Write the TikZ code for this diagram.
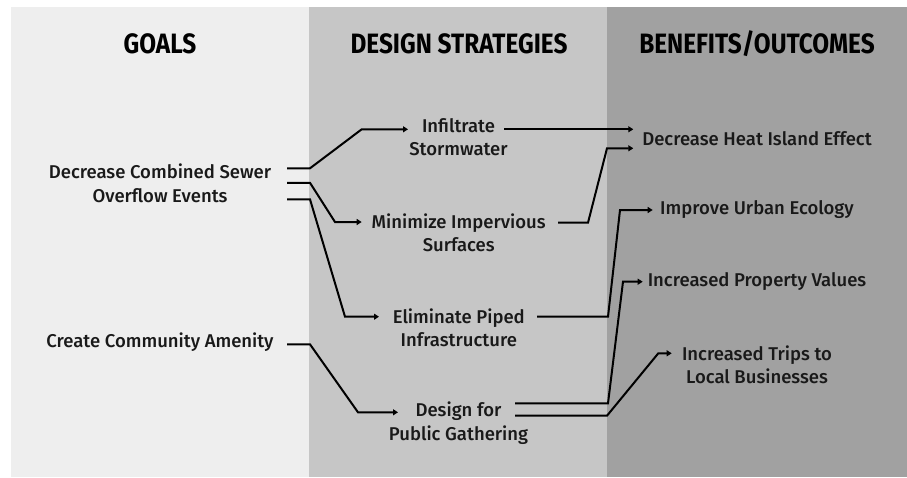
\documentclass[tikz,border=0pt]{standalone}
\usepackage{fontspec}
\setmainfont{Fira Sans Medium}
\newfontfamily\headfont[FakeStretch=0.87]{Fira Sans}
\usetikzlibrary{arrows.meta}
\definecolor{goalgray}{HTML}{EEEEEE}
\definecolor{stratgray}{HTML}{C6C6C6}
\definecolor{bengray}{HTML}{A1A1A1}

\begin{document}
\begin{tikzpicture}[x=1pt,y=-1pt,>={Triangle[length=5pt,width=6pt]},
		head/.style={font=\headfont\bfseries\fontsize{28}{30}\selectfont},
		item/.style={font=\fontsize{18.5}{23.3}\selectfont,align=center,inner sep=0pt,text=black!90},
		link/.style={->,line width=2pt}]

	\useasboundingbox (0,0) rectangle (907,477);

	% the three columns
	\fill[goalgray] (11,7) rectangle (309.3,477);
	\fill[stratgray] (309.3,7) rectangle (607.3,477);
	\fill[bengray] (607.3,7) rectangle (907,477);

	\node[head] (hgoal) at (160,43.5) {GOALS};
	\node[head] (hstrat) at (459,43.5) {DESIGN STRATEGIES};
	\node[head] (hben) at (757,43.5) {BENEFITS/OUTCOMES};

	% goals
	\node[item] (sewer) at (160,183.3) {Decrease Combined Sewer\\Overflow Events};
	\node[item] (amenity) at (160,341.7) {Create Community Amenity};

	% strategies
	\node[item] (infil) at (458.5,137.5) {Infiltrate\\Stormwater};
	\node[item] (minim) at (458.7,233) {Minimize Impervious\\Surfaces};
	\node[item] (elim) at (458.8,327.5) {Eliminate Piped\\Infrastructure};
	\node[item] (design) at (458.5,423) {Design for\\Public Gathering};

	% outcomes
	\node[item] (heat) at (757,139) {Decrease Heat Island Effect};
	\node[item] (ecol) at (757,210) {Improve Urban Ecology};
	\node[item] (prop) at (757,281.7) {Increased Property Values};
	\node[item] (trips) at (757,365) {Increased Trips to\\Local Businesses};

	% goals -> strategies
	\draw[link] ([shift={(127,-15)}]sewer.center) -- ++(23,0)
		-- ([shift={(-96.8,-8.2)}]infil.center) -- ([shift={(-50.5,-8.2)}]infil.center);
	\draw[link] ([shift={(127,-0.5)}]sewer.center) -- ++(23,0)
		-- ([shift={(-123.7,-11)}]minim.center) -- ([shift={(-97,-11)}]minim.center);
	\draw[link] ([shift={(127,16)}]sewer.center) -- ++(23,0)
		-- ([shift={(-113.8,-10.8)}]elim.center) -- ([shift={(-79.8,-10.8)}]elim.center);
	\draw[link] ([shift={(127,2.6)}]amenity.center) -- ++(23,0)
		-- ([shift={(-100.5,-10.7)}]design.center) -- ([shift={(-60.5,-10.7)}]design.center);

	% strategies -> outcomes
	\draw[link] ([shift={(45.5,-8.2)}]infil.center) -- ([shift={(-123.7,-9.7)}]heat.center);
	\draw[link] ([shift={(99.3,-10.3)}]minim.center) -- ++(30,0)
		-- ([shift={(-150,9.3)}]heat.center) -- ([shift={(-123.7,9.3)}]heat.center);
	\draw[link] ([shift={(78.2,-10.8)}]elim.center) -- ++(71,0)
		-- ([shift={(-137,0)}]ecol.center) -- ([shift={(-104.3,0)}]ecol.center);
	\draw[link] ([shift={(56.5,-19.7)}]design.center) -- ++(93,0)
		-- ([shift={(-134,0)}]prop.center) -- ([shift={(-114.3,0)}]prop.center);
	\draw[link] ([shift={(56.5,-7.3)}]design.center) -- ++(92,0)
		-- ([shift={(-98.7,-11.7)}]trips.center) -- ([shift={(-85.3,-11.7)}]trips.center);

\end{tikzpicture}
\end{document}
